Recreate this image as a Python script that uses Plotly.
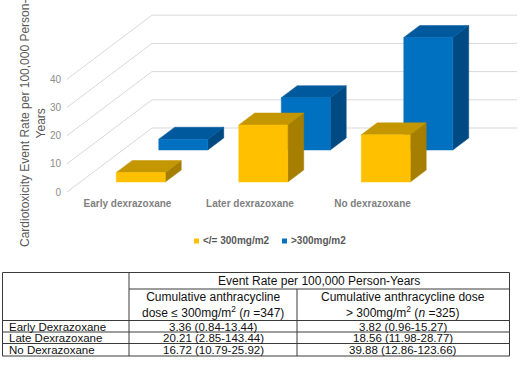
import plotly.graph_objects as go

# ---------------- data ----------------
categories = ["Early dexrazoxane", "Later dexrazoxane", "No dexrazoxane"]
series_names = ["</= 300mg/m2", ">300mg/m2"]
low_dose = [3.36, 20.21, 16.72]
high_dose = [3.82, 18.56, 39.88]
y_ticks = [0, 10, 20, 30, 40]

table_title = "Event Rate per 100,000 Person-Years"
table_col_heads = [
    "Cumulative anthracycline<br>dose ≤ 300mg/m<sup>2</sup> (<i>n</i> =347)",
    "Cumulative anthracycline dose<br>&gt; 300mg/m<sup>2</sup> (<i>n</i> =325)",
]
table_rows = ["Early Dexrazoxane", "Late Dexrazoxane", "No Dexrazoxane"]
table_low = ["3.36 (0.84-13.44)", "20.21 (2.85-143.44)", "16.72 (10.79-25.92)"]
table_high = ["3.82 (0.96-15.27)", "18.56 (11.98-28.77)", "39.88 (12.86-123.66)"]

# ---------------- geometry ----------------
W, H = 520, 366
X0, XS = 127.5, 122.5     # px of category 0, px per category
Y0, YS = 192.0, 2.82      # px of value 0, px per value unit
DEPTH_DX, DEPTH_DY = 85.0, 64.0   # oblique depth offset (px) to back wall
BAR_HALF = 0.2


def depth(f):
    return DEPTH_DX * f / XS, DEPTH_DY * f / YS


FONT = "Arial, Liberation Sans, sans-serif"
fig = go.Figure()

# gridlines (floor-side diagonals + back wall)
gx, gy = [], []
xl = (67 - X0) / XS
xr = (517 - X0) / XS
bdx, bdv = depth(1.0)
for v in y_ticks:
    gx += [xl, xl + bdx, xr, None]
    gy += [v, v + bdv, v + bdv, None]
fig.add_trace(go.Scatter(x=gx, y=gy, mode="lines", line=dict(color="#D9D9D9", width=1),
                         hoverinfo="skip", showlegend=False))

series = [
    # (values, depth front, depth back, front, top, side)
    (high_dose, 42 / 64, 54 / 64, "#0070C0", "#00599C", "#004A84"),
    (low_dose, 10 / 64, 22 / 64, "#FFC000", "#C49600", "#A67E00"),
]

for vals, f0, f1, cf, ct, cs in series:
    ox, ov = depth(f0)
    dx, dv = depth(f1 - f0)
    for i, h in enumerate(vals):
        x0 = i - BAR_HALF + ox
        x1 = i + BAR_HALF + ox
        faces = [
            ([x1, x1 + dx, x1 + dx, x1, x1], [ov, ov + dv, ov + h + dv, ov + h, ov], cs),
            ([x0, x1, x1 + dx, x0 + dx, x0], [ov + h, ov + h, ov + h + dv, ov + h + dv, ov + h], ct),
            ([x0, x1, x1, x0, x0], [ov, ov, ov + h, ov + h, ov], cf),
        ]
        for fx, fy, col in faces:
            fig.add_trace(go.Scatter(x=fx, y=fy, mode="lines", fill="toself", fillcolor=col,
                                     line=dict(color=col, width=0.5), hoverinfo="skip",
                                     showlegend=False))


def px_x(p):
    return p / W


def px_y(p):
    return 1 - p / H


annotations = []
shapes = []

# y-axis title
annotations.append(dict(
    x=px_x(33), y=px_y(124), xref="paper", yref="paper", showarrow=False,
    text="Cardiotoxicity Event Rate per 100,000 Person-<br>Years", textangle=-90,
    font=dict(family=FONT, size=12, color="#595959"), align="center",
    xanchor="center", yanchor="middle"))

# legend
leg_cols = ["#FFC000", "#0070C0"]
leg_x = [194, 282]
for name, col, lx in zip(series_names, leg_cols, leg_x):
    shapes.append(dict(type="rect", xref="paper", yref="paper",
                       x0=px_x(lx), x1=px_x(lx + 5), y0=px_y(243.5), y1=px_y(238.5),
                       fillcolor=col, line=dict(width=0)))
    annotations.append(dict(x=px_x(lx + 7), y=px_y(241), xref="paper", yref="paper",
                            showarrow=False, text=name.replace("<", "&lt;").replace(">", "&gt;"),
                            font=dict(family=FONT, size=10, color="#595959", weight="bold"),
                            xanchor="left", yanchor="middle"))

# table lines
LC = dict(color="#3A3A3A", width=1)
TL, TR = 2.5, 509.5
tr_top, r1, r2, r3, r4, tb = 272.5, 289, 320.5, 332, 343.5, 356
c1, c2 = 129, 297
for (xa, ya, xb, yb) in [
    (TL, tr_top, TR, tr_top), (TL, tb, TR, tb), (TL, tr_top, TL, tb), (TR, tr_top, TR, tb),
    (c1, r1, TR, r1), (TL, r2, TR, r2), (TL, r3, TR, r3), (TL, r4, TR, r4),
    (c1, tr_top, c1, tb), (c2, r1, c2, tb),
]:
    shapes.append(dict(type="line", xref="paper", yref="paper",
                       x0=px_x(xa), x1=px_x(xb), y0=px_y(ya), y1=px_y(yb), line=LC))

TF = dict(family=FONT, size=12, color="#111111")
TFR = dict(family=FONT, size=11.5, color="#111111")
annotations.append(dict(x=px_x((c1 + TR) / 2), y=px_y((tr_top + r1) / 2), xref="paper", yref="paper",
                        showarrow=False, text=table_title, font=TF, xanchor="center", yanchor="middle"))
for txt, cx in zip(table_col_heads, [(c1 + c2) / 2, (c2 + TR) / 2]):
    annotations.append(dict(x=px_x(cx), y=px_y((r1 + r2) / 2 + 0.5), xref="paper", yref="paper",
                            showarrow=False, text=txt, font=TF, align="center",
                            xanchor="center", yanchor="middle"))
row_edges = [r2, r3, r4, tb]
for k, (lab, lo, hi) in enumerate(zip(table_rows, table_low, table_high)):
    yc = (row_edges[k] + row_edges[k + 1]) / 2 + 0.5
    annotations.append(dict(x=px_x(7), y=px_y(yc), xref="paper", yref="paper", showarrow=False,
                            text=lab, font=TFR, xanchor="left", yanchor="middle"))
    annotations.append(dict(x=px_x((c1 + c2) / 2), y=px_y(yc), xref="paper", yref="paper",
                            showarrow=False, text=lo, font=TFR, xanchor="center", yanchor="middle"))
    annotations.append(dict(x=px_x((c2 + TR) / 2), y=px_y(yc), xref="paper", yref="paper",
                            showarrow=False, text=hi, font=TFR, xanchor="center", yanchor="middle"))

fig.update_layout(
    width=W, height=H, margin=dict(l=0, r=0, t=0, b=0),
    paper_bgcolor="white", plot_bgcolor="white", showlegend=False,
    xaxis=dict(range=[(0 - X0) / XS, (W - X0) / XS], domain=[0, 1], anchor="free",
               position=px_y(196), showgrid=False, zeroline=False, showline=False,
               tickmode="array", tickvals=list(range(len(categories))), ticktext=categories,
               ticks="", tickfont=dict(family=FONT, size=10, color="#7F7F7F", weight="bold"),
               fixedrange=True),
    yaxis=dict(range=[(Y0 - H) / YS, Y0 / YS], domain=[0, 1], anchor="free",
               position=px_x(61), showgrid=False, zeroline=False, showline=False,
               tickmode="array", tickvals=y_ticks, ticks="",
               tickfont=dict(family=FONT, size=10, color="#8C8C8C"), fixedrange=True),
    annotations=annotations, shapes=shapes,
)

fig.write_html("out.html", config={"displayModeBar": False},
               post_script="document.body.style.margin='0';document.body.style.overflow='hidden';")
